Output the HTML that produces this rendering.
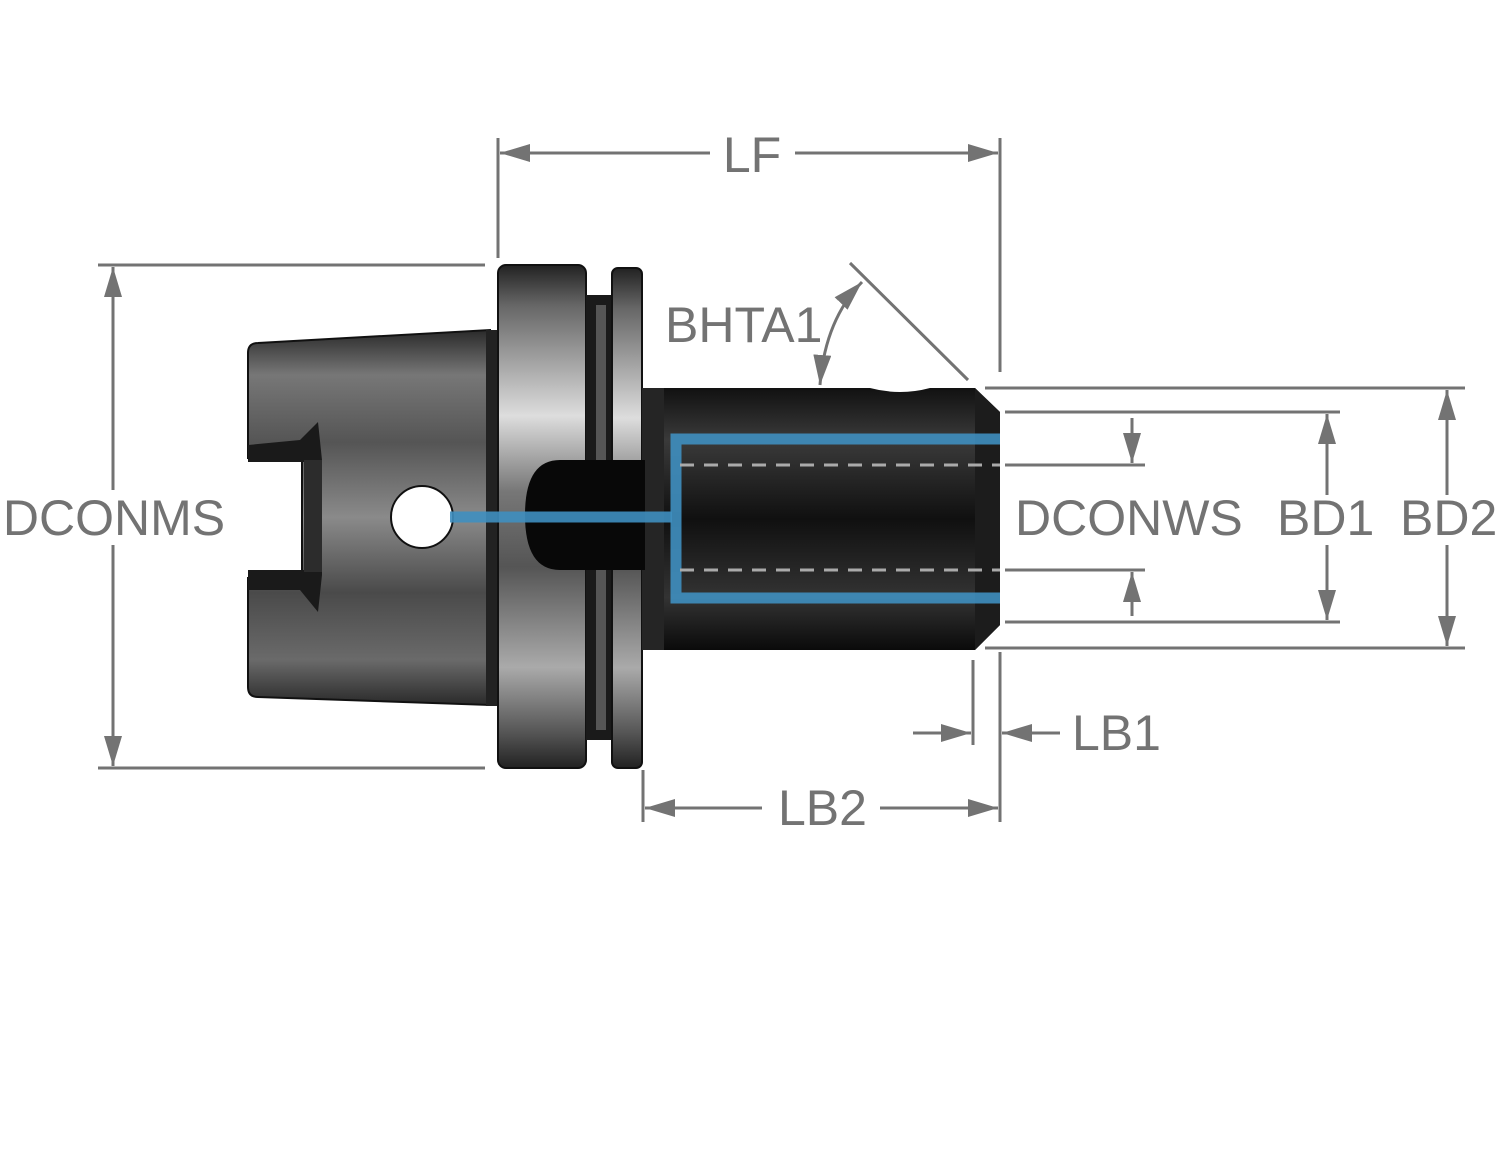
<!DOCTYPE html>
<html><head><meta charset="utf-8"><style>
html,body{margin:0;padding:0;background:#fff}
svg{display:block}
text{font-family:"Liberation Sans",sans-serif;font-size:50px;fill:#737373}
</style></head><body>
<svg width="1500" height="1154" viewBox="0 0 1500 1154" xmlns="http://www.w3.org/2000/svg">
<defs>
<linearGradient id="steel" x1="0" y1="0" x2="0" y2="1">
<stop offset="0" stop-color="#2a2a2a"/><stop offset="0.12" stop-color="#777"/><stop offset="0.3" stop-color="#555"/><stop offset="0.5" stop-color="#8a8a8a"/><stop offset="0.7" stop-color="#4a4a4a"/><stop offset="0.88" stop-color="#6a6a6a"/><stop offset="1" stop-color="#2a2a2a"/>
</linearGradient>
<linearGradient id="flange" x1="0" y1="0" x2="0" y2="1">
<stop offset="0" stop-color="#222"/><stop offset="0.08" stop-color="#666"/><stop offset="0.3" stop-color="#ddd"/><stop offset="0.45" stop-color="#777"/><stop offset="0.6" stop-color="#555"/><stop offset="0.8" stop-color="#aaa"/><stop offset="0.93" stop-color="#555"/><stop offset="1" stop-color="#222"/>
</linearGradient>
<linearGradient id="dark" x1="0" y1="0" x2="0" y2="1">
<stop offset="0" stop-color="#111"/><stop offset="0.2" stop-color="#3a3a3a"/><stop offset="0.5" stop-color="#101010"/><stop offset="0.8" stop-color="#333"/><stop offset="1" stop-color="#0a0a0a"/>
</linearGradient>
<marker id="a2" markerWidth="30" markerHeight="18" refX="30" refY="9" orient="auto-start-reverse" markerUnits="userSpaceOnUse">
<path d="M0,0 L30,9 L0,18 z" fill="#737373"/></marker>
</defs>

<!-- taper shank -->
<path d="M258,343 L490,330 L490,705 L258,697 Q248,697 248,687 L248,578 L302,578 L302,458 L248,458 L248,353 Q248,343 258,343 Z" fill="url(#steel)" stroke="#111" stroke-width="2"/>
<path d="M248,445 L300,440 L318,422 L322,460 L322,575 L318,612 L300,590 L248,590 L248,570 L304,570 L304,462 L248,462 Z" fill="#1a1a1a"/>
<rect x="304" y="460" width="18" height="112" fill="#2c2c2c"/>
<circle cx="422" cy="517" r="31" fill="#fff" stroke="#111" stroke-width="2"/>
<rect x="486" y="330" width="14" height="376" fill="#222"/>
<!-- flange -->
<rect x="498" y="265" width="88" height="503" rx="8" fill="url(#flange)" stroke="#111" stroke-width="2"/>
<rect x="586" y="295" width="28" height="445" fill="#1a1a1a"/>
<rect x="596" y="305" width="10" height="425" fill="#555"/>
<rect x="612" y="268" width="30" height="500" rx="6" fill="url(#flange)" stroke="#111" stroke-width="2"/>
<!-- shank body -->
<path d="M642,388 L975,388 L1000,412 L1000,625 L975,650 L642,650 Z" fill="url(#dark)"/>
<rect x="642" y="388" width="22" height="262" fill="#252525"/>
<path d="M975,388 L1000,412 L1000,625 L975,650 Z" fill="#1c1c1c"/>
<path d="M820,388 Q840,380 870,388 Q900,396 930,388 Z" fill="#fff"/>
<!-- dome -->
<path d="M645,460 L560,460 Q525,460 525,515 Q525,570 560,570 L645,570 Z" fill="#080808"/>
<!-- blue lines -->
<line x1="450" y1="517" x2="672" y2="517" stroke="#3f8fc0" stroke-width="11" opacity="0.9"/>
<path d="M1000,439 L676,439 L676,598 L1000,598" fill="none" stroke="#3f8fc0" stroke-width="11" opacity="0.9"/>
<line x1="680" y1="465" x2="1000" y2="465" stroke="#aaa" stroke-width="3" stroke-dasharray="14,10"/>
<line x1="680" y1="570" x2="1000" y2="570" stroke="#aaa" stroke-width="3" stroke-dasharray="14,10"/>

<g stroke="#737373" stroke-width="3" fill="none">
<line x1="498" y1="138" x2="498" y2="258"/>
<line x1="1000" y1="138" x2="1000" y2="372"/>
<line x1="500" y1="153" x2="710" y2="153" marker-start="url(#a2)"/>
<line x1="795" y1="153" x2="998" y2="153" marker-end="url(#a2)"/>
<line x1="98" y1="265" x2="485" y2="265"/>
<line x1="98" y1="768" x2="485" y2="768"/>
<line x1="113" y1="267" x2="113" y2="490" marker-start="url(#a2)"/>
<line x1="113" y1="545" x2="113" y2="766" marker-end="url(#a2)"/>
<line x1="850" y1="263" x2="968" y2="380"/>
<path d="M820,385 Q825,320 862,282" marker-start="url(#a2)" marker-end="url(#a2)"/>
<line x1="985" y1="388" x2="1465" y2="388"/>
<line x1="985" y1="648" x2="1465" y2="648"/>
<line x1="1447" y1="390" x2="1447" y2="495" marker-start="url(#a2)"/>
<line x1="1447" y1="545" x2="1447" y2="646" marker-end="url(#a2)"/>
<line x1="1005" y1="412" x2="1340" y2="412"/>
<line x1="1005" y1="622" x2="1340" y2="622"/>
<line x1="1327" y1="414" x2="1327" y2="495" marker-start="url(#a2)"/>
<line x1="1327" y1="545" x2="1327" y2="620" marker-end="url(#a2)"/>
<line x1="1005" y1="465" x2="1145" y2="465"/>
<line x1="1005" y1="570" x2="1145" y2="570"/>
<line x1="1132" y1="418" x2="1132" y2="463" marker-end="url(#a2)"/>
<line x1="1132" y1="616" x2="1132" y2="572" marker-end="url(#a2)"/>
<line x1="973" y1="660" x2="973" y2="745"/>
<line x1="1000" y1="652" x2="1000" y2="822"/>
<line x1="913" y1="733" x2="971" y2="733" marker-end="url(#a2)"/>
<line x1="1060" y1="733" x2="1002" y2="733" marker-end="url(#a2)"/>
<line x1="643" y1="770" x2="643" y2="822"/>
<line x1="645" y1="808" x2="762" y2="808" marker-start="url(#a2)"/>
<line x1="880" y1="808" x2="998" y2="808" marker-end="url(#a2)"/>
</g>

<text x="752" y="172" text-anchor="middle">LF</text>
<text x="114" y="535" text-anchor="middle">DCONMS</text>
<text x="665" y="342">BHTA1</text>
<text x="1015" y="535">DCONWS</text>
<text x="1277" y="535">BD1</text>
<text x="1400" y="535">BD2</text>
<text x="1072" y="750">LB1</text>
<text x="778" y="825">LB2</text>
</svg>
</body></html>
